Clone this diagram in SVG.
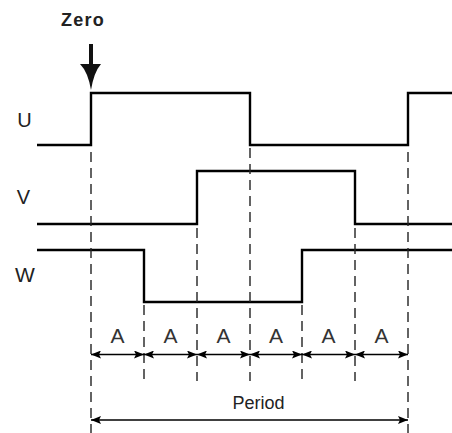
<svg xmlns="http://www.w3.org/2000/svg" width="452" height="433" viewBox="0 0 452 433">
<style>
.sig{fill:none;stroke:#000;stroke-width:2.4;stroke-linejoin:miter;stroke-linecap:butt}
.dash{stroke:#222;stroke-width:1.4;stroke-dasharray:10 6;fill:none}
.dim{stroke:#000;stroke-width:1.3;fill:none;marker-start:url(#ah);marker-end:url(#ah)}
.lbl{font-family:"Liberation Sans",Arial,Helvetica,sans-serif;fill:#222}
.a{font-size:21px;fill:#333}
</style>
<defs>
<marker id="ah" viewBox="0 0 10 8" refX="10" refY="4" markerWidth="10" markerHeight="8" markerUnits="userSpaceOnUse" orient="auto-start-reverse">
<path d="M0,0 L10,4 L0,8 L2,4 Z" fill="#000"/>
</marker>
</defs>
<rect width="452" height="433" fill="#fff"/>
<g id="zero">
<text class="lbl" x="83" y="26" font-size="18" font-weight="bold" letter-spacing="1.2" text-anchor="middle" fill="#111">Zero</text>
<rect x="89" y="44" width="4" height="22" fill="#111"/>
<path d="M80,64 L101,64 Q94,72 91,90 Q88,72 80,64 Z" fill="#111"/>
</g>
<g id="labels">
<text class="lbl" x="24.5" y="127" font-size="20" text-anchor="middle">U</text>
<text class="lbl" x="23.5" y="204" font-size="20" text-anchor="middle">V</text>
<text class="lbl" x="25" y="282" font-size="21" text-anchor="middle">W</text>
</g>
<g id="signal-U"><path class="sig" d="M37,145 H91 V93 H250 V145 H408 V93 H452"/></g>
<g id="signal-V"><path class="sig" d="M37,224 H197 V171 H355 V224 H452"/></g>
<g id="signal-W"><path class="sig" d="M37,250 H144 V302 H302 V250 H452"/></g>
<g id="connectors">
<line class="dash" x1="91" y1="152" x2="91" y2="433"/>
<line class="dash" x1="408" y1="152" x2="408" y2="433"/>
<line class="dash" x1="250" y1="148" x2="250" y2="381"/>
<line class="dash" x1="197" y1="228" x2="197" y2="381"/>
<line class="dash" x1="355" y1="228" x2="355" y2="381"/>
<line class="dash" x1="144" y1="305" x2="144" y2="381"/>
<line class="dash" x1="302" y1="305" x2="302" y2="381"/>
<line class="dim" x1="91" y1="354.5" x2="144" y2="354.5"/>
<line class="dim" x1="144" y1="354.5" x2="197" y2="354.5"/>
<line class="dim" x1="197" y1="354.5" x2="250" y2="354.5"/>
<line class="dim" x1="250" y1="354.5" x2="302" y2="354.5"/>
<line class="dim" x1="302" y1="354.5" x2="355" y2="354.5"/>
<line class="dim" x1="355" y1="354.5" x2="408" y2="354.5"/>
<line class="dim" x1="91" y1="420" x2="408" y2="420"/>
</g>
<g id="dim-labels">
<text class="lbl a" x="117.5" y="343" text-anchor="middle">A</text>
<text class="lbl a" x="170.5" y="343" text-anchor="middle">A</text>
<text class="lbl a" x="223.5" y="343" text-anchor="middle">A</text>
<text class="lbl a" x="276" y="343" text-anchor="middle">A</text>
<text class="lbl a" x="328.5" y="343" text-anchor="middle">A</text>
<text class="lbl a" x="381.5" y="343" text-anchor="middle">A</text>
<text class="lbl" x="258.5" y="409" font-size="18" text-anchor="middle" fill="#333">Period</text>
</g>
</svg>
